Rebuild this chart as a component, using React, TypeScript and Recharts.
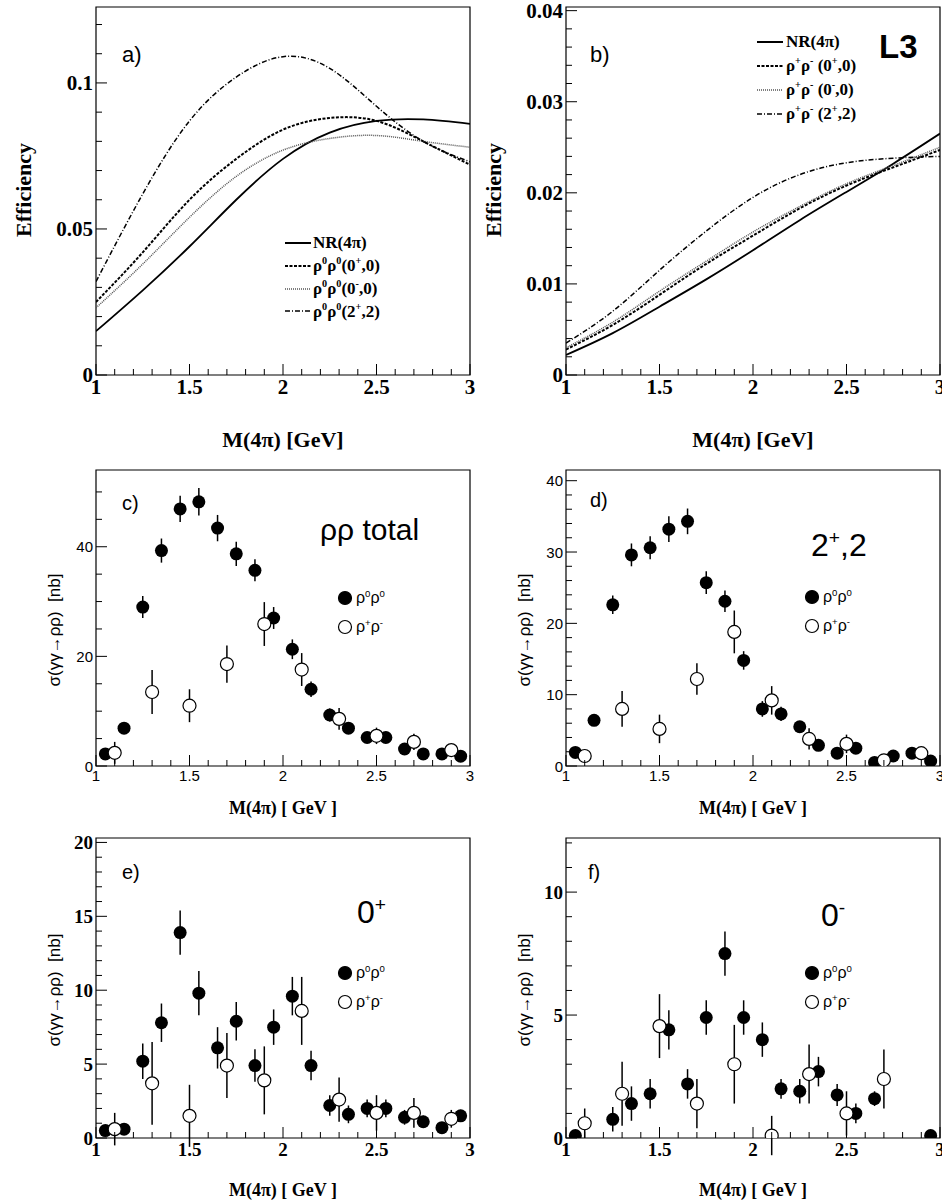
import React from "react";
import { LineChart, Line, ComposedChart, Scatter, ErrorBar, XAxis, YAxis, ReferenceArea } from "recharts";

// Efficiency curves
const effX = [1.0, 1.25, 1.5, 1.75, 2.0, 2.25, 2.5, 2.75, 3.0];
const aNR = [0.015, 0.029, 0.044, 0.06, 0.074, 0.083, 0.087, 0.0875, 0.086];
const a0p = [0.025, 0.042, 0.06, 0.074, 0.084, 0.088, 0.087, 0.08, 0.072];
const a0m = [0.023, 0.038, 0.054, 0.068, 0.077, 0.081, 0.082, 0.08, 0.078];
const a2p = [0.032, 0.062, 0.087, 0.102, 0.109, 0.105, 0.092, 0.08, 0.073];
const bNR = [0.0022, 0.0046, 0.0075, 0.0105, 0.0137, 0.017, 0.0201, 0.0232, 0.0265];
const b0p = [0.0028, 0.0055, 0.0088, 0.0122, 0.0153, 0.0183, 0.0208, 0.0228, 0.0247];
const b0m = [0.003, 0.0058, 0.0092, 0.0125, 0.0157, 0.0185, 0.021, 0.023, 0.025];
const b2p = [0.0035, 0.007, 0.0115, 0.0158, 0.0195, 0.022, 0.0233, 0.0238, 0.024];

// Cross sections: filled (rho0 rho0) and open (rho+ rho-)
const xFilled = [1.05, 1.15, 1.25, 1.35, 1.45, 1.55, 1.65, 1.75, 1.85, 1.95, 2.05, 2.15, 2.25, 2.35, 2.45, 2.55, 2.65, 2.75, 2.85, 2.95];
const xOpen = [1.1, 1.3, 1.5, 1.7, 1.9, 2.1, 2.3, 2.5, 2.7, 2.9];
const cF = [2.2, 6.9, 29, 39.3, 46.9, 48.2, 43.4, 38.7, 35.7, 27, 21.3, 14, 9.3, 6.9, 5.2, 5.2, 3.1, 2.2, 2.2, 1.8];
const cFe = [1, 1, 2, 2.2, 2.4, 2.5, 2.4, 2.2, 2, 2, 1.8, 1.4, 1.2, 1, 1, 1, 1, 0.8, 0.8, 0.8];
const cO = [2.4, 13.5, 11, 18.6, 25.9, 17.6, 8.6, 5.5, 4.4, 2.9];
const cOe = [2, 4, 3, 3.4, 4, 3, 2, 1.5, 1.5, 1];
const dF = [1.9, 6.4, 22.6, 29.6, 30.6, 33.2, 34.3, 25.7, 23.1, 14.8, 8.0, 7.3, 5.5, 2.9, 1.8, 2.5, 0.5, 1.4, 1.8, 0.7];
const dFe = [0.6, 0.8, 1.3, 1.6, 1.6, 1.8, 1.8, 1.6, 1.5, 1.3, 1.1, 1, 0.8, 0.7, 0.6, 0.6, 0.4, 0.4, 0.4, 0.3];
const dO = [1.4, 8.0, 5.2, 12.2, 18.8, 9.2, 3.8, 3.1, 0.8, 1.8];
const dOe = [0.8, 2.5, 2, 2.2, 3, 2, 1.5, 1.3, 0.6, 0.6];
const eF = [0.5, 0.6, 5.2, 7.8, 13.9, 9.8, 6.1, 7.9, 4.9, 7.5, 9.6, 4.9, 2.2, 1.6, 2.0, 2.0, 1.4, 1.1, 0.7, 1.5];
const eFe = [0.3, 0.3, 1.2, 1.3, 1.5, 1.5, 1.4, 1.3, 1.1, 1.2, 1.3, 1, 0.7, 0.6, 0.6, 0.6, 0.5, 0.4, 0.3, 0.4];
const eO = [0.6, 3.7, 1.5, 4.9, 3.9, 8.6, 2.6, 1.7, 1.7, 1.3];
const eOe = [1.1, 2.8, 2.1, 2.2, 2.3, 2.3, 1.5, 1.2, 1.0, 0.6];
const xFilledF = [1.05, 1.25, 1.35, 1.45, 1.55, 1.65, 1.75, 1.85, 1.95, 2.05, 2.15, 2.25, 2.35, 2.45, 2.55, 2.65, 2.95];
const fF = [0.1, 0.76, 1.4, 1.8, 4.4, 2.2, 4.9, 7.5, 4.9, 4.0, 2.0, 1.9, 2.7, 1.75, 1.0, 1.6, 0.1];
const fFe = [0.1, 0.5, 0.7, 0.6, 0.8, 0.6, 0.7, 0.9, 0.7, 0.7, 0.4, 0.5, 0.6, 0.45, 0.4, 0.3, 0.1];
const xOpenF = [1.1, 1.3, 1.5, 1.7, 1.9, 2.1, 2.3, 2.5, 2.7];
const fO = [0.6, 1.8, 4.55, 1.4, 3.0, 0.1, 2.6, 1.0, 2.4];
const fOe = [0.6, 1.3, 1.3, 1.0, 1.6, 0.8, 1.2, 0.9, 1.2];

const xMajor = [1, 1.5, 2, 2.5, 3];
const aYMajor = [0, 0.05, 0.1];
const bYMajor = [0, 0.01, 0.02, 0.03, 0.04];
const cYMajor = [0, 20, 40];
const dYMajor = [0, 10, 20, 30, 40];
const eYMajor = [0, 5, 10, 15, 20];
const fYMajor = [0, 5, 10];

const range = (a: number, b: number, s: number) => {
  const out: number[] = [];
  for (let i = 0; a + i * s <= b + 1e-9; i++) out.push(+(a + i * s).toFixed(6));
  return out;
};
const xTicks = range(1, 3, 0.1);

const serifB = { fontFamily: "'Liberation Serif', serif", fontWeight: 700 };
const sans = { fontFamily: "'Liberation Sans', Arial, sans-serif" };

const isMaj = (v: number, m: number[]) => m.some((q) => Math.abs(q - v) < 1e-9);

const YTick = (majors: number[], font: any, size: number) => (p: any) => {
  const v = p.payload.value;
  const maj = isMaj(v, majors);
  return (
    <g>
      <line x1={p.x} x2={p.x + (maj ? 11 : 6)} y1={p.y} y2={p.y} stroke="#000" strokeWidth={1} />
      {maj && (
        <text x={p.x - 3} y={p.y} textAnchor="end" dominantBaseline="central" fontSize={size} style={font} fill="#000">
          {String(v)}
        </text>
      )}
    </g>
  );
};
const XTick = (majors: number[], font: any, size: number) => (p: any) => {
  const v = p.payload.value;
  const maj = isMaj(v, majors);
  return (
    <g>
      <line x1={p.x} x2={p.x} y1={p.y} y2={p.y - (maj ? 11 : 6)} stroke="#000" strokeWidth={1} />
      {maj && (
        <text x={p.x} y={p.y + 4} textAnchor="middle" dominantBaseline="hanging" fontSize={size} style={font} fill="#000">
          {String(v)}
        </text>
      )}
    </g>
  );
};

const curveData = (s: number[][]) => effX.map((x, i) => ({ x, nr: s[0][i], p0: s[1][i], m0: s[2][i], p2: s[3][i] }));
const pts = (xs: number[], ys: number[], es: number[]) => xs.map((x, i) => ({ x, y: ys[i], err: es[i] }));

const Filled = (p: any) => <circle cx={p.cx} cy={p.cy} r={6.5} fill="#000" />;
const Open = (p: any) => <circle cx={p.cx} cy={p.cy} r={6.5} fill="#fff" stroke="#000" strokeWidth={1.2} />;

const axisProps = (font: any, size: number, majors: number[]) => ({
  tickSize: 0, tickMargin: 0, axisLine: false, tickLine: false, interval: 0 as const,
});

function EffChart({ data, ymax, yMajor, yMinor, margin, w, h }: any) {
  return (
    <LineChart width={w} height={h} data={data} margin={margin}>
      <XAxis dataKey="x" type="number" domain={[1, 3]} ticks={xTicks} height={40} {...axisProps(serifB, 21, xMajor)} tick={XTick(xMajor, serifB, 21)} allowDataOverflow />
      <YAxis type="number" domain={[0, ymax]} ticks={yMinor} width={60} {...axisProps(serifB, 21, yMajor)} tick={YTick(yMajor, serifB, 21)} allowDataOverflow />
      <ReferenceArea x1={1} x2={3} y1={0} y2={ymax} fill="none" stroke="#000" strokeWidth={1.2} ifOverflow="visible" />
      <Line dataKey="nr" type="natural" stroke="#000" strokeWidth={1.8} dot={false} isAnimationActive={false} />
      <Line dataKey="p0" type="natural" stroke="#000" strokeWidth={2} strokeDasharray="3 1.5" dot={false} isAnimationActive={false} />
      <Line dataKey="m0" type="natural" stroke="#555" strokeWidth={1.5} strokeDasharray="1 1" dot={false} isAnimationActive={false} />
      <Line dataKey="p2" type="natural" stroke="#000" strokeWidth={1.5} strokeDasharray="5 2 1 2" dot={false} isAnimationActive={false} />
    </LineChart>
  );
}

function XsChart({ filled, open, ymax, yMajor, yMinor, margin, w, h, font, fsize }: any) {
  return (
    <ComposedChart width={w} height={h} margin={margin}>
      <XAxis dataKey="x" type="number" domain={[1, 3]} ticks={xTicks} height={30} {...axisProps(font, fsize, xMajor)} tick={XTick(xMajor, font, fsize)} allowDataOverflow />
      <YAxis dataKey="y" type="number" domain={[0, ymax]} ticks={yMinor} width={60} {...axisProps(font, fsize, yMajor)} tick={YTick(yMajor, font, fsize)} allowDataOverflow />
      <ReferenceArea x1={1} x2={3} y1={0} y2={ymax} fill="none" stroke="#000" strokeWidth={1.2} ifOverflow="visible" />
      <Scatter data={filled} shape={Filled} isAnimationActive={false}>
        <ErrorBar dataKey="err" direction="y" width={0} stroke="#000" strokeWidth={1.5} />
      </Scatter>
      <Scatter data={open} shape={Open} isAnimationActive={false}>
        <ErrorBar dataKey="err" direction="y" width={0} stroke="#000" strokeWidth={1.5} />
      </Scatter>
    </ComposedChart>
  );
}

const abs = (l: number, t: number, extra: any = {}) => ({ position: "absolute" as const, left: l, top: t, whiteSpace: "nowrap" as const, lineHeight: 1, ...extra });

const LegLine = ({ l, t, dash, color = "#000", sw = 2 }: any) => (
  <svg style={abs(l, t - 3)} width={26} height={6}>
    <line x1={0} x2={26} y1={3} y2={3} stroke={color} strokeWidth={sw} strokeDasharray={dash} />
  </svg>
);
const Dot = ({ l, t, open }: any) => (
  <svg style={abs(l - 8, t - 8)} width={16} height={16}>
    <circle cx={8} cy={8} r={6.5} fill={open ? "#fff" : "#000"} stroke="#000" strokeWidth={1.2} />
  </svg>
);
const Rho00 = () => (<span>ρ<sup style={{ fontSize: "0.6em" }}>0</sup>ρ<sup style={{ fontSize: "0.6em" }}>0</sup></span>);
const Rhopm = () => (<span>ρ<sup style={{ fontSize: "0.6em" }}>+</sup>ρ<sup style={{ fontSize: "0.6em" }}>-</sup></span>);

function DataLegend({ l, t }: any) {
  return (
    <>
      <Dot l={l} t={t} />
      <Dot l={l} t={t + 29} open />
      <div style={abs(l + 11, t - 9, { ...sans, fontSize: 16 })}><Rho00 /></div>
      <div style={abs(l + 11, t + 20, { ...sans, fontSize: 16 })}><Rhopm /></div>
    </>
  );
}

const yTitle = (cx: number, cy: number, text: any, style: any) => (
  <div style={{ position: "absolute", left: cx, top: cy, transform: "translate(-50%,-50%) rotate(-90deg)", whiteSpace: "nowrap", ...style }}>{text}</div>
);
const xTitle = (cx: number, cy: number, text: any, style: any) => (
  <div style={{ position: "absolute", left: cx, top: cy, transform: "translate(-50%,-50%)", whiteSpace: "nowrap", ...style }}>{text}</div>
);

const SigmaT = () => (<span>σ(γγ→ρρ)&nbsp;&nbsp;[nb]</span>);

export default function App() {
  const aData = curveData([aNR, a0p, a0m, a2p]);
  const bData = curveData([bNR, b0p, b0m, b2p]);
  return (
    <div style={{ position: "absolute", left: 0, top: 0, width: 942, height: 1204, background: "#fff", overflow: "hidden" }}>
      <div style={abs(0, 0)}>
        <EffChart data={aData} ymax={0.126} yMajor={aYMajor} yMinor={range(0, 0.12, 0.01)} w={480} h={440} margin={{ top: 7, left: 36, right: 10, bottom: 25 }} />
      </div>
      <div style={abs(470, 0)}>
        <EffChart data={bData} ymax={0.0404} yMajor={bYMajor} yMinor={range(0, 0.04, 0.002)} w={472} h={440} margin={{ top: 7, left: 36, right: 2, bottom: 25 }} />
      </div>
      <div style={abs(0, 460)}>
        <XsChart filled={pts(xFilled, cF, cFe)} open={pts(xOpen, cO, cOe)} ymax={54} yMajor={cYMajor} yMinor={range(0, 50, 5)} w={480} h={360} margin={{ top: 10, left: 36, right: 10, bottom: 24 }} font={sans} fsize={15} />
      </div>
      <div style={abs(470, 460)}>
        <XsChart filled={pts(xFilled, dF, dFe)} open={pts(xOpen, dO, dOe)} ymax={41.5} yMajor={dYMajor} yMinor={range(0, 40, 2)} w={472} h={360} margin={{ top: 10, left: 36, right: 2, bottom: 24 }} font={sans} fsize={15} />
      </div>
      <div style={abs(0, 828)}>
        <XsChart filled={pts(xFilled, eF, eFe)} open={pts(xOpen, eO, eOe)} ymax={20.3} yMajor={eYMajor} yMinor={range(0, 20, 1)} w={480} h={376} margin={{ top: 10, left: 36, right: 10, bottom: 36 }} font={serifB} fsize={19} />
      </div>
      <div style={abs(470, 828)}>
        <XsChart filled={pts(xFilledF, fF, fFe)} open={pts(xOpenF, fO, fOe)} ymax={12.2} yMajor={fYMajor} yMinor={range(0, 12, 1)} w={472} h={376} margin={{ top: 10, left: 36, right: 2, bottom: 36 }} font={serifB} fsize={19} />
      </div>

      {yTitle(24, 190, "Efficiency", { ...serifB, fontSize: 22 })}
      {yTitle(494, 190, "Efficiency", { ...serifB, fontSize: 22 })}
      {xTitle(283, 440, "M(4π) [GeV]", { ...serifB, fontSize: 22 })}
      {xTitle(753, 440, "M(4π) [GeV]", { ...serifB, fontSize: 22 })}
      {xTitle(283, 808, "M(4π) [ GeV ]", { ...serifB, fontSize: 18 })}
      {xTitle(753, 808, "M(4π) [ GeV ]", { ...serifB, fontSize: 18 })}
      {xTitle(283, 1190, "M(4π) [ GeV ]", { ...serifB, fontSize: 18 })}
      {xTitle(753, 1190, "M(4π) [ GeV ]", { ...serifB, fontSize: 18 })}
      {yTitle(55, 630, <SigmaT />, { ...sans, fontSize: 17 })}
      {yTitle(525, 630, <SigmaT />, { ...sans, fontSize: 17 })}
      {yTitle(55, 990, <SigmaT />, { ...sans, fontSize: 17 })}
      {yTitle(525, 990, <SigmaT />, { ...sans, fontSize: 17 })}

      <div style={abs(122, 44, { ...sans, fontSize: 22 })}>a)</div>
      <div style={abs(590, 44, { ...sans, fontSize: 22 })}>b)</div>
      <div style={abs(879, 30, { ...sans, fontSize: 33, fontWeight: 700 })}>L3</div>
      <div style={abs(122, 493, { ...sans, fontSize: 20 })}>c)</div>
      <div style={abs(590, 490, { ...sans, fontSize: 20 })}>d)</div>
      <div style={abs(122, 862, { ...sans, fontSize: 20 })}>e)</div>
      <div style={abs(588, 862, { ...sans, fontSize: 20 })}>f)</div>
      <div style={abs(320, 515, { ...sans, fontSize: 30 })}>ρρ total</div>
      <div style={abs(811, 528, { ...sans, fontSize: 32 })}>2<sup style={{ fontSize: "0.6em" }}>+</sup>,2</div>
      <div style={abs(357, 895, { ...sans, fontSize: 32 })}>0<sup style={{ fontSize: "0.6em" }}>+</sup></div>
      <div style={abs(821, 898, { ...sans, fontSize: 32 })}>0<sup style={{ fontSize: "0.6em" }}>-</sup></div>

      <LegLine l={285} t={243} />
      <LegLine l={285} t={266} dash="3 1.5" />
      <LegLine l={285} t={289} dash="1 1" color="#555" sw={1.5} />
      <LegLine l={285} t={311} dash="5 2 1 2" sw={1.5} />
      <div style={abs(313, 234, { ...serifB, fontSize: 17 })}>NR(4π)</div>
      <div style={abs(313, 256, { ...serifB, fontSize: 17 })}><Rho00 />(0<sup style={{ fontSize: "0.6em" }}>+</sup>,0)</div>
      <div style={abs(313, 279, { ...serifB, fontSize: 17 })}><Rho00 />(0<sup style={{ fontSize: "0.6em" }}>-</sup>,0)</div>
      <div style={abs(313, 302, { ...serifB, fontSize: 17 })}><Rho00 />(2<sup style={{ fontSize: "0.6em" }}>+</sup>,2)</div>
      <LegLine l={757} t={42} />
      <LegLine l={757} t={66} dash="3 1.5" />
      <LegLine l={757} t={90} dash="1 1" color="#555" sw={1.5} />
      <LegLine l={757} t={114} dash="5 2 1 2" sw={1.5} />
      <div style={abs(786, 33, { ...serifB, fontSize: 17 })}>NR(4π)</div>
      <div style={abs(786, 56, { ...serifB, fontSize: 17 })}><Rhopm /> (0<sup style={{ fontSize: "0.6em" }}>+</sup>,0)</div>
      <div style={abs(786, 80, { ...serifB, fontSize: 17 })}><Rhopm /> (0<sup style={{ fontSize: "0.6em" }}>-</sup>,0)</div>
      <div style={abs(786, 104, { ...serifB, fontSize: 17 })}><Rhopm /> (2<sup style={{ fontSize: "0.6em" }}>+</sup>,2)</div>

      <DataLegend l={345} t={598} />
      <DataLegend l={812} t={597} />
      <DataLegend l={345} t={973} />
      <DataLegend l={812} t={973} />
    </div>
  );
}
